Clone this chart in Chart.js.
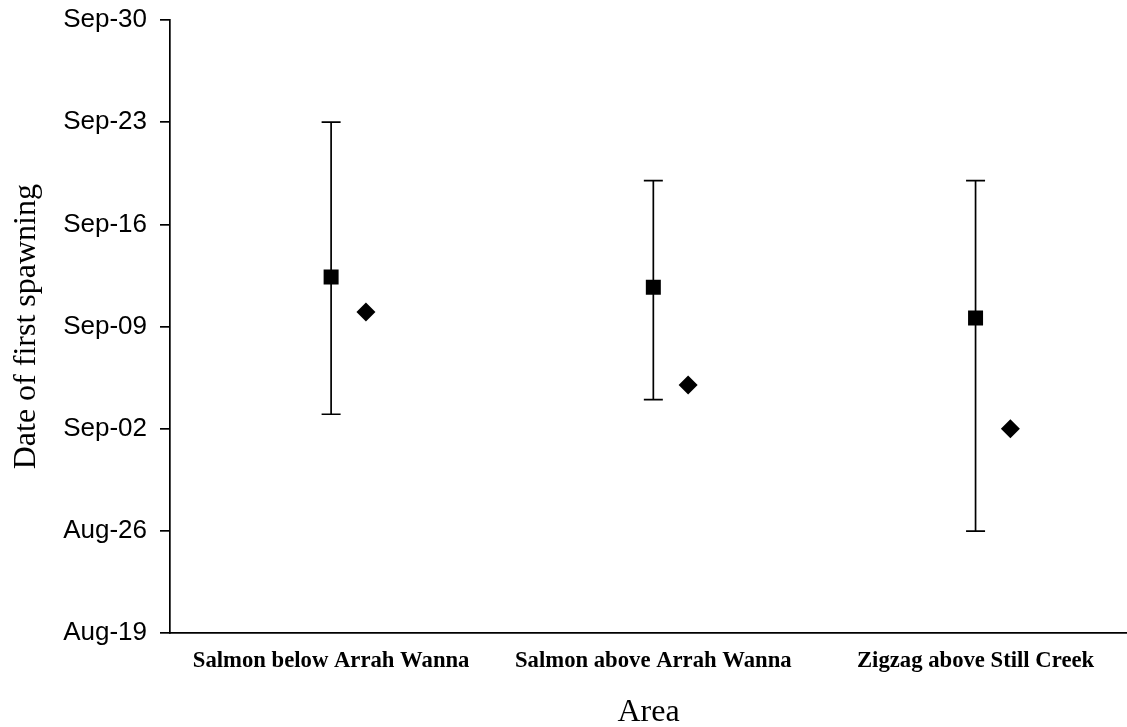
<!DOCTYPE html>
<html>
<head>
<meta charset="utf-8">
<script src="https://cdn.jsdelivr.net/npm/chart.js@4/dist/chart.umd.min.js"></script>
<style>
  html, body { margin: 0; padding: 0; background: #fff; }
  #wrap { width: 1127px; height: 727px; position: relative; }
</style>
</head>
<body>
<div id="wrap"><canvas id="c"></canvas></div>
<script>
// Categories (x axis)
const categories = ["Salmon below Arrah Wanna", "Salmon above Arrah Wanna", "Zigzag above Still Creek"];
// Y tick labels (days since Aug-19, step 7)
const yTickLabels = ["Aug-19", "Aug-26", "Sep-02", "Sep-09", "Sep-16", "Sep-23", "Sep-30"];
// Series values in days after Aug-19
const meanValues = [24.4, 23.7, 21.6];     // squares
const rangeLow   = [15.0, 16.0, 7.0];      // error bar low
const rangeHigh  = [35.0, 31.0, 31.0];     // error bar high
const pointValues = [22.0, 17.0, 14.0];    // diamonds

const DIAMOND_SHIFT = 0.108;

const errorBarPlugin = {
  id: 'errorBars',
  beforeDatasetsDraw(chart) {
    const ctx = chart.ctx;
    const xs = chart.scales.x, ys = chart.scales.y;
    ctx.save();
    ctx.strokeStyle = '#000';
    ctx.lineWidth = 1.7;
    const cap = 9.5;
    meanValues.forEach((v, i) => {
      const px = xs.getPixelForValue(i);
      const yl = ys.getPixelForValue(rangeLow[i]);
      const yh = ys.getPixelForValue(rangeHigh[i]);
      ctx.beginPath();
      ctx.moveTo(px, yl); ctx.lineTo(px, yh);
      ctx.moveTo(px - cap, yl); ctx.lineTo(px + cap, yl);
      ctx.moveTo(px - cap, yh); ctx.lineTo(px + cap, yh);
      ctx.stroke();
    });
    ctx.restore();
  }
};

new Chart(document.getElementById('c'), {
  type: 'scatter',
  data: {
    datasets: [
      {
        label: 'Mean',
        data: meanValues.map((v, i) => ({ x: i, y: v })),
        pointStyle: 'rect',
        pointRadius: 10.6,
        backgroundColor: '#000',
        borderColor: '#000',
        borderWidth: 0
      },
      {
        label: 'Observed',
        data: pointValues.map((v, i) => ({ x: i + DIAMOND_SHIFT, y: v })),
        pointStyle: 'rectRot',
        pointRadius: 9.5,
        backgroundColor: '#000',
        borderColor: '#000',
        borderWidth: 0
      }
    ]
  },
  options: {
    responsive: true,
    maintainAspectRatio: false,
    animation: false,
    layout: { autoPadding: false, padding: { top: 20, right: 0, bottom: 0, left: 0 } },
    plugins: { legend: { display: false }, tooltip: { enabled: false } },
    scales: {
      x: {
        type: 'linear',
        min: -0.5,
        max: 2.47,
        afterBuildTicks(scale) { scale.ticks = categories.map((c, i) => ({ value: i })); },
        afterFit(scale) { scale.height = 93.7; scale.paddingLeft = 0; scale.paddingRight = 0; },
        grid: { display: true, drawOnChartArea: false, drawTicks: false },
        border: { display: true, color: '#000', width: 1.7 },
        ticks: {
          autoSkip: false,
          maxRotation: 0,
          padding: 14,
          color: '#000',
          font: { family: "'Liberation Serif', 'Times New Roman', serif", size: 22.7, weight: 'bold' },
          callback: (v) => categories[v] !== undefined ? categories[v] : ''
        },
        title: {
          display: true,
          text: 'Area',
          color: '#000',
          font: { family: "'Liberation Serif', 'Times New Roman', serif", size: 32, lineHeight: 0.8 },
          padding: { top: 0, bottom: 2 }
        }
      },
      y: {
        type: 'linear',
        min: 0,
        max: 42,
        afterFit(scale) { scale.width = 170; scale.paddingTop = 0; scale.paddingBottom = 0; },
        grid: { display: true, drawOnChartArea: false, drawTicks: true, tickLength: 10, color: '#000', lineWidth: 1.7 },
        border: { display: true, color: '#000', width: 1.7 },
        ticks: {
          stepSize: 7,
          padding: 13,
          color: '#000',
          font: { family: "'Liberation Sans', Arial, sans-serif", size: 26 },
          callback: (v) => yTickLabels[Math.round(v / 7)]
        },
        title: {
          display: true,
          text: 'Date of first spawning',
          color: '#000',
          font: { family: "'Liberation Serif', 'Times New Roman', serif", size: 32, lineHeight: 0.8 },
          padding: { top: 14, bottom: 0 }
        }
      }
    }
  },
  plugins: [errorBarPlugin]
});
</script>
</body>
</html>
